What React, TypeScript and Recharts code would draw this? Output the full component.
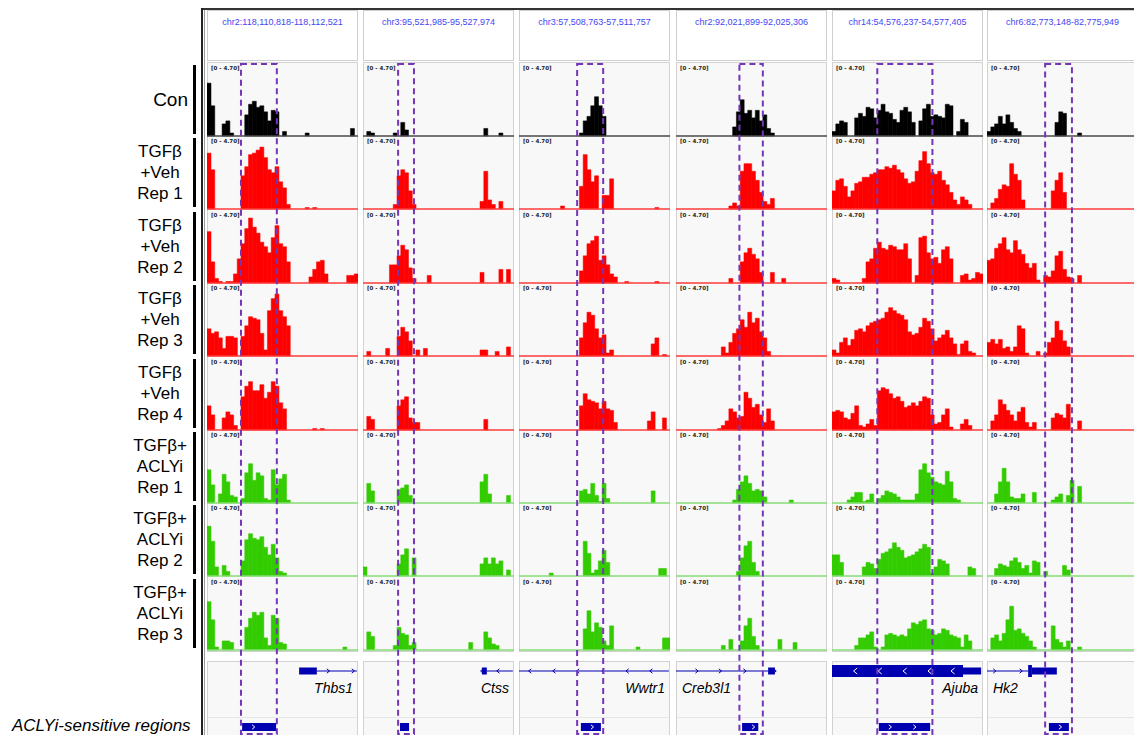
import React from 'react';
import {
  BarChart, Bar, ComposedChart, XAxis, YAxis, ReferenceLine, ReferenceArea, ReferenceDot,
} from 'recharts';

// loci shown in the six panels
const LOCI = [
  'chr2:118,110,818-118,112,521',
  'chr3:95,521,985-95,527,974',
  'chr3:57,508,763-57,511,757',
  'chr2:92,021,899-92,025,306',
  'chr14:54,576,237-54,577,405',
  'chr6:82,773,148-82,775,949',
];
const GENES = ['Thbs1', 'Ctss', 'Wwtr1', 'Creb3l1', 'Ajuba', 'Hk2'];
const TRACK_LABELS = [
  ['Con'],
  ['TGFβ', '+Veh', 'Rep 1'],
  ['TGFβ', '+Veh', 'Rep 2'],
  ['TGFβ', '+Veh', 'Rep 3'],
  ['TGFβ', '+Veh', 'Rep 4'],
  ['TGFβ+', 'ACLYi', 'Rep 1'],
  ['TGFβ+', 'ACLYi', 'Rep 2'],
  ['TGFβ+', 'ACLYi', 'Rep 3'],
];
const TRACK_GROUP = ['con', 'veh', 'veh', 'veh', 'veh', 'acly', 'acly', 'acly'];
const DATA_RANGE = '[0 - 4.70]';
const Y_MAX = 4.7;
const BINS = 40;

// coverage per locus: one row per track (Con, Veh 1-4, ACLYi 1-3), 40 bins each
const thbs1 = [
  [3.5, 2.0, 0, 0, 0.8, 1.0, 0.2, 0, 0, 0, 1.4, 2.1, 2.3, 1.9, 2.0, 1.6, 1.0, 1.7, 1.6, 0, 0.3, 0, 0, 0, 0, 0, 0.2, 0, 0, 0, 0, 0, 0, 0, 0, 0, 0, 0, 0.5, 0],
  [3.7, 2.6, 0, 0, 0, 0, 0, 0, 0, 2.2, 2.8, 3.6, 3.7, 3.9, 4.1, 3.4, 2.6, 2.4, 2.8, 1.8, 1.4, 0.3, 0, 0, 0, 0, 0.1, 0, 0.1, 0, 0, 0, 0, 0, 0, 0, 0, 0, 0, 0],
  [3.4, 1.4, 0.3, 0.1, 0, 0.1, 0.1, 0.6, 1.6, 2.6, 3.6, 4.3, 3.7, 3.3, 2.7, 2.4, 2.0, 3.0, 3.8, 2.6, 2.4, 1.4, 0, 0, 0, 0, 0, 0.4, 0.9, 1.4, 1.5, 0.6, 0, 0, 0, 0, 0, 0.5, 0.5, 0.6],
  [1.8, 1.5, 1.6, 1.2, 0.5, 1.3, 1.3, 1.2, 0, 1.3, 2.0, 2.6, 2.5, 2.4, 1.5, 0.4, 3.0, 3.8, 4.1, 3.0, 2.6, 2.0, 0, 0, 0, 0, 0, 0, 0, 0, 0, 0, 0, 0, 0, 0, 0, 0, 0, 0],
  [1.6, 1.0, 0, 0, 0.8, 1.2, 1.0, 0.3, 0, 2.2, 2.9, 3.2, 2.6, 2.6, 3.0, 2.1, 2.5, 3.2, 2.9, 1.8, 1.4, 0, 0, 0, 0, 0, 0, 0, 0.1, 0, 0.1, 0, 0, 0, 0, 0, 0, 0, 0, 0],
  [2.2, 1.2, 0, 0.6, 1.9, 1.4, 0.5, 0.4, 0, 0.3, 2.0, 2.6, 1.5, 2.0, 1.8, 0.3, 0.2, 2.2, 1.2, 1.6, 1.9, 0.2, 0, 0, 0, 0, 0, 0, 0, 0, 0, 0, 0, 0, 0, 0, 0, 0, 0, 0],
  [3.3, 2.3, 0.6, 0, 0.7, 0.3, 0, 0, 0, 1.0, 2.4, 2.8, 2.5, 2.4, 2.6, 1.9, 1.4, 2.1, 1.2, 0.3, 0.2, 0, 0, 0, 0, 0, 0, 0, 0, 0, 0, 0, 0, 0, 0, 0, 0, 0, 0, 0],
  [3.2, 2.0, 0.2, 0, 0.6, 0.6, 0.5, 0, 0, 0, 1.5, 2.1, 2.5, 2.3, 2.5, 0.8, 0.3, 2.3, 2.1, 0.5, 0.4, 0, 0, 0, 0, 0, 0, 0, 0, 0, 0, 0, 0, 0, 0, 0, 0.2, 0, 0, 0],
];
const ctss = [
  [0, 0.3, 0.2, 0, 0, 0, 0, 0, 0.2, 0, 0.9, 0.4, 0, 0, 0, 0, 0, 0, 0, 0, 0, 0, 0, 0, 0, 0, 0, 0, 0, 0, 0, 0, 0.5, 0, 0, 0, 0.2, 0, 0, 0],
  [0, 0, 0, 0, 0, 0, 0, 0, 0.3, 2.2, 2.6, 2.4, 1.2, 0.3, 0, 0, 0, 0, 0, 0, 0, 0, 0, 0, 0, 0, 0, 0, 0, 0, 0, 0.5, 2.5, 0.6, 0.3, 0, 0.5, 0, 0, 0],
  [0, 0, 0, 0, 0, 0, 0, 1.2, 1.2, 1.8, 2.5, 2.2, 1.0, 0.3, 0, 0, 0, 0.5, 0, 0, 0, 0, 0, 0, 0, 0, 0, 0, 0, 0, 0, 0.7, 0, 0, 0, 0, 0.9, 0, 0.9, 0],
  [0, 0.3, 0, 0, 0, 0, 0.5, 0, 0, 1.3, 1.9, 1.6, 1.0, 0, 0.4, 0, 0.5, 0, 0, 0, 0, 0, 0, 0, 0, 0, 0, 0, 0, 0, 0, 0.4, 0.4, 0, 0, 0.3, 0, 0, 0.6, 0],
  [0, 0.9, 0.7, 0, 0, 0, 0, 0, 0, 1.6, 2.0, 2.2, 0.8, 0.5, 0.5, 0, 0, 0, 0, 0, 0, 0, 0, 0, 0, 0, 0, 0, 0, 0, 0, 0, 0.7, 0, 0, 0, 0, 0, 0, 0],
  [0, 1.3, 0.8, 0, 0, 0, 0, 0, 0, 0.9, 1.0, 1.2, 0.5, 0, 0, 0, 0, 0, 0, 0, 0, 0, 0, 0, 0, 0, 0, 0, 0, 0, 0, 1.4, 1.9, 0.6, 0, 0, 0, 0, 0.5, 0],
  [0.6, 0, 0, 0, 0, 0, 0, 0, 0, 0.8, 1.4, 1.8, 0, 1.2, 0, 0, 0, 0, 0, 0, 0, 0, 0, 0, 0, 0, 0, 0, 0, 0, 0, 0.8, 1.2, 0.8, 1.2, 0.8, 1.0, 0, 0.4, 0],
  [0, 1.2, 0.9, 0, 0, 0, 0, 0, 0.3, 1.5, 1.1, 1.0, 0.3, 0.5, 0, 0, 0, 0, 0, 0, 0, 0, 0, 0, 0, 0, 0, 0, 0.5, 0, 0, 0, 1.2, 0.8, 0.4, 0.3, 0, 0, 0, 0],
];
const wwtr1 = [
  [0, 0, 0, 0, 0, 0, 0, 0, 0, 0, 0, 0, 0, 0, 0, 0, 0.2, 1.0, 1.3, 2.0, 2.6, 2.0, 1.3, 0, 0, 0, 0, 0, 0, 0, 0, 0, 0, 0, 0, 0, 0, 0, 0, 0],
  [0, 0, 0, 0, 0, 0, 0, 0, 0, 0, 0, 0.2, 0, 0, 0, 0, 1.5, 3.6, 2.6, 1.8, 2.2, 0, 0.9, 0.9, 2.0, 0, 0, 0, 0, 0, 0, 0, 0, 0, 0, 0, 0.1, 0, 0, 0],
  [0, 0, 0, 0, 0, 0, 0, 0, 0, 0, 0, 0, 0, 0, 0, 0, 0.8, 1.8, 2.6, 2.8, 3.1, 1.5, 1.8, 1.2, 0.6, 0.4, 0, 0, 0.1, 0, 0, 0, 0, 0, 0, 0, 0.1, 0, 0, 0],
  [0, 0, 0, 0, 0, 0, 0, 0, 0, 0, 0, 0, 0, 0, 0, 0, 1.2, 2.2, 2.9, 2.7, 1.8, 1.2, 1.4, 0.2, 0.4, 0, 0, 0, 0, 0, 0, 0, 0, 0, 0, 0.8, 1.2, 0, 0.1, 0],
  [0, 0, 0, 0, 0, 0, 0, 0, 0, 0, 0, 0, 0, 0, 0, 0, 1.6, 2.4, 2.0, 1.9, 1.8, 1.4, 1.9, 1.4, 1.3, 0.5, 0, 0, 0, 0, 0, 0, 0, 0, 0.6, 1.2, 0, 0, 0.8, 0],
  [0, 0, 0, 0, 0, 0, 0, 0, 0, 0, 0, 0, 0, 0, 0, 0, 0.8, 0.9, 0.6, 1.3, 0.5, 0.1, 1.3, 0.3, 0, 0, 0, 0, 0, 0, 0, 0, 0, 0, 0, 0.8, 0, 0, 0, 0],
  [0, 0, 0, 0, 0, 0, 0, 0, 0.2, 0, 0, 0, 0, 0, 0, 0, 0, 2.3, 1.5, 0.2, 0.4, 1.0, 1.7, 0.9, 0, 0, 0, 0, 0, 0, 0, 0, 0, 0, 0, 0, 0, 0.5, 0.5, 0],
  [0, 0, 0, 0, 0, 0, 0, 0, 0, 0, 0, 0, 0, 0, 0, 0, 0, 1.4, 2.6, 1.2, 1.8, 1.5, 0.6, 0.3, 1.6, 0, 0, 0, 0, 0, 0, 0.2, 0, 0, 0, 0, 0, 0, 0.8, 0.8],
];
const creb3l1 = [
  [0, 0, 0, 0, 0, 0, 0, 0, 0, 0, 0, 0, 0, 0, 0, 0.6, 1.6, 2.4, 1.5, 1.7, 1.2, 1.7, 1.0, 1.4, 0.5, 0.2, 0, 0, 0, 0, 0, 0, 0, 0, 0, 0, 0, 0, 0, 0],
  [0, 0, 0, 0, 0, 0, 0, 0, 0, 0, 0, 0, 0, 0, 0.2, 0.4, 0.2, 2.5, 3.0, 3.0, 2.5, 1.9, 1.1, 0.5, 0.3, 0.7, 0, 0, 0, 0, 0, 0, 0, 0, 0, 0, 0, 0, 0, 0],
  [0, 0, 0, 0, 0, 0, 0, 0, 0, 0, 0, 0, 0, 0, 0.3, 0, 0, 1.4, 2.0, 2.3, 1.9, 1.6, 0.7, 0, 0, 0.7, 0, 0, 0.3, 0, 0, 0, 0, 0, 0, 0, 0, 0, 0, 0],
  [0, 0, 0, 0, 0, 0, 0, 0, 0, 0, 0, 0, 0.6, 0.2, 0.9, 1.5, 1.8, 2.4, 1.9, 2.9, 2.2, 2.5, 1.6, 1.2, 0.3, 0, 0, 0, 0, 0, 0, 0, 0, 0, 0, 0, 0, 0, 0, 0],
  [0, 0, 0, 0, 0, 0, 0, 0, 0, 0, 0, 0.1, 0.3, 0.6, 1.4, 1.2, 0.8, 0.9, 2.5, 2.1, 1.5, 1.7, 1.0, 0.5, 1.4, 0.6, 0, 0, 0, 0, 0, 0, 0, 0, 0, 0, 0, 0, 0, 0],
  [0, 0, 0, 0, 0, 0, 0, 0, 0, 0, 0, 0, 0, 0, 0, 0.2, 0.9, 1.4, 1.8, 1.3, 0.8, 0.9, 0.8, 0.4, 0, 0, 0, 0, 0, 0, 0.2, 0, 0, 0, 0, 0, 0, 0, 0, 0],
  [0, 0, 0, 0, 0, 0, 0, 0, 0, 0, 0, 0, 0, 0, 0, 0, 0.3, 1.2, 2.0, 2.3, 0.9, 0.3, 0, 0, 0, 0, 0, 0, 0, 0, 0, 0, 0, 0, 0, 0, 0, 0, 0, 0],
  [0, 0, 0, 0, 0, 0, 0, 0, 0, 0, 0, 0, 0.3, 0, 0.7, 0, 0, 0.6, 1.6, 2.1, 0.9, 0.3, 0, 0, 0, 0, 0, 0.7, 0, 0, 0, 0.5, 0, 0, 0, 0, 0, 0, 0, 0],
];
const ajuba = [
  [0.3, 0.8, 1.0, 0.9, 0, 0, 1.2, 1.5, 1.3, 1.9, 1.8, 1.2, 1.7, 2.1, 1.6, 1.5, 1.1, 0.9, 1.7, 1.9, 1.6, 0.9, 0, 1.0, 1.8, 2.1, 1.3, 1.4, 1.3, 1.2, 2.1, 2.0, 0, 0.3, 1.1, 0.9, 0, 0, 0, 0],
  [1.2, 1.9, 2.0, 1.5, 0.8, 1.2, 1.7, 1.8, 2.1, 2.1, 2.3, 2.4, 2.6, 2.6, 2.8, 2.7, 2.9, 2.6, 2.4, 2.0, 1.7, 1.8, 2.5, 3.2, 3.8, 3.0, 2.4, 2.3, 2.5, 1.9, 1.6, 1.1, 0.6, 0.3, 0.8, 0.6, 0.3, 0, 0, 0],
  [0.3, 0.2, 0, 0, 0, 0, 0, 0, 0.3, 1.4, 1.6, 2.3, 2.7, 2.3, 2.2, 2.5, 2.4, 2.2, 2.2, 2.6, 1.6, 0, 0.5, 3.0, 3.1, 2.0, 1.6, 1.7, 1.3, 2.2, 2.4, 1.6, 0, 0, 0.5, 0.6, 0.2, 0.3, 0.7, 0.6],
  [0.4, 0.2, 0.9, 1.2, 0.7, 1.1, 1.7, 1.8, 1.6, 2.0, 2.2, 2.3, 2.4, 2.5, 2.9, 3.2, 3.0, 2.8, 2.7, 2.4, 1.6, 1.4, 1.5, 1.9, 2.5, 2.3, 1.8, 1.0, 1.2, 1.4, 1.7, 1.2, 0.8, 0.1, 0.8, 1.0, 0.3, 0.2, 0, 0],
  [1.2, 1.3, 1.2, 0.8, 0.7, 1.1, 1.6, 0.3, 0.2, 0.4, 0.7, 0.3, 2.6, 2.8, 2.7, 2.4, 2.1, 2.2, 1.9, 1.5, 1.6, 1.8, 1.6, 1.9, 2.2, 2.1, 1.0, 0.4, 0.5, 1.0, 1.4, 0.2, 0, 0, 0.4, 0.7, 0.3, 0, 0, 0],
  [0, 0, 0, 0, 0.2, 0.4, 0.7, 0.7, 0.1, 0.2, 0.6, 0, 0.3, 0.5, 0.8, 0.7, 0.6, 0.4, 0.2, 0.2, 0.2, 0.2, 0.6, 2.2, 2.6, 2.0, 1.7, 1.4, 1.3, 1.2, 2.1, 1.4, 0.3, 0.2, 0, 0, 0, 0, 0, 0],
  [1.4, 1.4, 0.9, 0, 0, 0, 0, 0, 0.6, 0.9, 0.8, 0.5, 1.1, 1.5, 1.6, 1.8, 2.2, 1.9, 1.7, 1.2, 1.3, 1.4, 1.6, 1.8, 2.1, 1.9, 0.2, 0.6, 1.1, 1.0, 0.8, 0, 0, 0, 0, 0, 0.6, 0.5, 0, 0],
  [0, 0, 0, 0, 0, 0, 0.3, 0.8, 0.8, 1.0, 1.2, 0.2, 0, 0.2, 1.0, 1.1, 1.0, 0.9, 1.0, 0.9, 1.4, 1.8, 1.7, 1.9, 2.0, 1.4, 1.3, 1.0, 1.1, 1.4, 1.3, 1.0, 0.9, 0.8, 0.2, 1.0, 0.6, 0, 0, 0],
];
const hk2 = [
  [0.3, 0.6, 0.8, 1.3, 0.8, 1.4, 0.9, 0.5, 0.3, 0, 0, 0, 0, 0, 0, 0, 0, 0, 0.9, 1.6, 1.5, 0, 0, 0, 0.2, 0, 0, 0, 0, 0, 0, 0, 0, 0, 0, 0, 0, 0, 0, 0],
  [0, 0.4, 0.7, 1.3, 1.6, 1.5, 3.0, 2.3, 1.9, 0.6, 0, 0, 0, 0, 0, 0, 0, 1.2, 1.9, 2.4, 1.1, 0, 0, 0, 0, 0, 0, 0, 0, 0, 0, 0, 0, 0, 0, 0, 0, 0, 0, 0],
  [1.5, 1.6, 2.3, 2.6, 3.0, 2.2, 2.0, 2.8, 2.2, 1.9, 1.3, 1.0, 1.3, 0.2, 0, 0.5, 0.4, 0.8, 1.8, 2.1, 0.9, 0.4, 0.3, 0, 0.5, 0, 0, 0, 0, 0, 0, 0, 0, 0, 0, 0, 0, 0, 0, 0],
  [0.9, 1.1, 0.8, 1.1, 0.5, 0.6, 0.3, 0.6, 2.0, 1.8, 0.2, 0, 0, 0.3, 0, 0.2, 0.9, 1.2, 2.3, 1.7, 1.0, 0.6, 0, 0, 0, 0, 0, 0, 0, 0, 0, 0, 0, 0, 0, 0, 0, 0, 0, 0],
  [0, 0.6, 1.0, 2.0, 1.7, 1.3, 1.0, 0.6, 1.2, 1.5, 0.5, 0.2, 0.5, 0, 0, 0, 0, 0.8, 1.1, 1.0, 0.8, 1.7, 0, 0, 0.6, 0, 0, 0, 0, 0, 0, 0, 0, 0, 0, 0, 0, 0, 0, 0],
  [0, 0, 0.6, 1.4, 2.3, 1.4, 0.4, 0.3, 0.3, 0.6, 0, 0, 0.7, 0, 0, 0, 0, 0.2, 0.4, 0.6, 0, 0.5, 1.5, 0, 1.1, 0, 0, 0, 0, 0, 0, 0, 0, 0, 0, 0, 0, 0, 0, 0],
  [0, 0, 0.5, 0.8, 0.7, 0.6, 1.0, 1.2, 0.9, 0.5, 0.7, 0.2, 1.0, 0.9, 0, 0.3, 0, 0, 0, 0, 0.7, 0.4, 0, 0, 0, 0, 0, 0, 0, 0, 0, 0, 0, 0, 0, 0, 0, 0, 0, 0],
  [0, 0.8, 1.0, 0.6, 1.1, 2.0, 2.9, 1.3, 1.4, 1.1, 0.9, 0.6, 0.2, 0, 0, 0, 0, 1.6, 0.7, 0.5, 0.2, 0.6, 0, 0, 0.2, 0, 0, 0, 0, 0, 0, 0, 0, 0, 0, 0, 0, 0, 0, 0],
];
const COVERAGE = [thbs1, ctss, wwtr1, creb3l1, ajuba, hk2];

// ACLYi-sensitive windows (bin units) and highlighted boxes
const regionStart = [9.3, 9.8, 16.4, 17.5, 12.4, 16.4];
const regionEnd = [18.3, 12.2, 21.7, 21.8, 26.0, 21.7];
const boxStart = [9.0, 9.3, 15.4, 16.8, 12.0, 15.4];
const boxEnd = [18.5, 13.5, 22.3, 23.0, 26.6, 22.5];

// gene models (bin units)
const geneIntrons = [[29.1, 39.7], [32.8, 39.7], [0, 39.7], [0, 24.4], [], [0, 10.9]];
const geneExons = [
  [{ from: 24.4, to: 29.1, kind: 'utr' }],
  [{ from: 31.5, to: 32.8, kind: 'utr' }],
  [],
  [{ from: 24.4, to: 26.2, kind: 'utr' }],
  [{ from: 0, to: 34.7, kind: 'cds' }, { from: 34.7, to: 39.5, kind: 'utr' }],
  [{ from: 10.9, to: 11.9, kind: 'cds' }, { from: 11.9, to: 18.5, kind: 'utr' }],
];
const geneStrand = [1, -1, -1, 1, -1, 1];
const geneArrows = [
  [32.1, 38.7],
  [31.5, 35.8],
  [2.9, 9.3, 15.6, 22.3, 28.7, 35.0],
  [5.5, 11.7, 18.2, 26.2],
  [6.2, 12.7, 19.3, 25.9, 32.0],
  [2.0, 9.0],
];

const COL_X = [207, 363, 519, 676, 832, 987];
const COL_W = 151;
const FILL: Record<string, string> = { con: '#000000', veh: '#ff0000', acly: '#33cc00' };
const BASE: Record<string, string> = { con: '#4a4a4a', veh: '#ff3b3b', acly: '#86dc76' };
const GENE_BLUE = '#0000b0';
const PURPLE = '#7436b8';
const LEFT_LABELS = ['Creb3l1', 'Hk2'];
const FONT = '"Liberation Sans", Arial, sans-serif';

const trackTop = (r: number) => Math.round(63 + r * 73.4);

const chevron = (dir: number, color: string, size: number) => (p: any) => (
  <polyline
    points={`${p.cx - 0.6 * size * dir},${p.cy - size} ${p.cx + 0.6 * size * dir},${p.cy} ${p.cx - 0.6 * size * dir},${p.cy + size}`}
    fill="none"
    stroke={color}
    strokeWidth={1}
  />
);

function Track({ values, group }: { values: number[]; group: string }) {
  const data = values.map((v, i) => ({ bin: i, v }));
  return (
    <BarChart width={COL_W} height={74} data={data} margin={{ top: 2, right: 0, bottom: 1, left: 0 }} barCategoryGap={0} barGap={0}>
      <XAxis dataKey="bin" hide />
      <YAxis hide domain={[0, Y_MAX]} />
      <Bar dataKey="v" fill={FILL[group]} stroke={FILL[group]} strokeWidth={0.5} isAnimationActive={false} />
      <ReferenceLine y={0} stroke={BASE[group]} strokeWidth={1.5} />
    </BarChart>
  );
}

// shared axes for the annotation strips: x in bins, y in pixels around the centre line
function stripAxes(half: number) {
  return [
    <XAxis key="x" type="number" dataKey="pos" domain={[0, BINS]} allowDataOverflow hide />,
    <YAxis key="y" type="number" dataKey="y" domain={[-half, half]} allowDataOverflow hide />,
  ];
}

function GeneModel({ c }: { c: number }) {
  const intron = geneIntrons[c];
  const exons = geneExons[c];
  const data = exons.map((e) => ({ pos: e.from, y: 0 })).concat(intron.map((p) => ({ pos: p, y: 0 })));
  const inExon = (x: number) => exons.some((e) => x > e.from && x < e.to);
  return (
    <ComposedChart width={COL_W} height={24} data={data} margin={{ top: 0, right: 0, bottom: 0, left: 0 }}>
      {stripAxes(12)}
      {intron.length === 2 && (
        <ReferenceArea x1={intron[0]} x2={intron[1]} y1={-0.5} y2={0.5} fill={GENE_BLUE} fillOpacity={1} stroke="none" ifOverflow="visible" />
      )}
      {exons.map((e, i) => {
        const h = e.kind === 'cds' ? 6 : 3.5;
        return (
          <ReferenceArea key={i} x1={e.from} x2={e.to} y1={-h} y2={h} fill={GENE_BLUE} fillOpacity={1} stroke="none" ifOverflow="visible" />
        );
      })}
      {geneArrows[c].map((x, i) => {
        const inside = inExon(x);
        return (
          <ReferenceDot key={'a' + i} x={x} y={0} r={3} ifOverflow="visible"
            shape={chevron(geneStrand[c], inside ? '#ffffff' : GENE_BLUE, inside ? 3 : 2.2)} />
        );
      })}
    </ComposedChart>
  );
}

function RegionBox({ c }: { c: number }) {
  const s = regionStart[c];
  const e = regionEnd[c];
  const marks: number[] = [];
  for (let x = s + 3; x < e - 1; x += 6.5) marks.push(x);
  return (
    <ComposedChart width={COL_W} height={16} data={[{ pos: s, y: 0 }, { pos: e, y: 0 }]} margin={{ top: 0, right: 0, bottom: 0, left: 0 }}>
      {stripAxes(8)}
      <ReferenceArea x1={s} x2={e} y1={-4} y2={4} fill={GENE_BLUE} fillOpacity={1} stroke="none" ifOverflow="visible" />
      {marks.map((x, i) => (
        <ReferenceDot key={i} x={x} y={0} r={3} ifOverflow="visible" shape={chevron(1, '#ffffff', 2.2)} />
      ))}
    </ComposedChart>
  );
}

function HighlightBox({ c }: { c: number }) {
  return (
    <ComposedChart width={COL_W} height={674} data={[{ pos: boxStart[c], y: 0 }, { pos: boxEnd[c], y: 1 }]} margin={{ top: 2, right: 0, bottom: 2, left: 0 }}>
      <XAxis type="number" dataKey="pos" domain={[0, BINS]} allowDataOverflow hide />
      <YAxis type="number" dataKey="y" domain={[0, 1]} allowDataOverflow hide />
      <ReferenceArea x1={boxStart[c]} x2={boxEnd[c]} y1={0} y2={1} fill="none" stroke={PURPLE}
        strokeWidth={2} strokeDasharray="6 4" ifOverflow="visible" />
    </ComposedChart>
  );
}

export default function App() {
  return (
    <div style={{ position: 'absolute', left: 0, top: 0, width: 1134, height: 735, overflow: 'hidden', background: '#fff', fontFamily: FONT }}>
      {/* frame */}
      <div style={{ position: 'absolute', left: 201, top: 8, width: 933, height: 2, background: '#333' }} />
      <div style={{ position: 'absolute', left: 201, top: 8, width: 2, height: 727, background: '#222' }} />
      <div style={{ position: 'absolute', left: 204, top: 10, width: 1, height: 725, background: '#9a9a9a' }} />

      {/* row labels */}
      {TRACK_LABELS.map((lines, r) => {
        const top = trackTop(r);
        const mid = top + 37;
        return (
          <React.Fragment key={r}>
            <div style={{ position: 'absolute', left: 193, top: top + 2, width: 3, height: 69, background: '#000' }} />
            {lines.length === 1 ? (
              <div style={{ position: 'absolute', left: 100, width: 88, top: mid - 12, fontSize: 19, lineHeight: '24px', textAlign: 'right' }}>
                {lines[0]}
              </div>
            ) : (
              <div style={{ position: 'absolute', left: 120, width: 80, top: mid - 32, fontSize: 17, lineHeight: '21px', textAlign: 'center' }}>
                {lines.map((l) => <div key={l}>{l}</div>)}
              </div>
            )}
          </React.Fragment>
        );
      })}
      <div style={{ position: 'absolute', left: 12, top: 716, fontSize: 17, lineHeight: '20px', fontStyle: 'italic' }}>
        ACLYi-sensitive regions
      </div>

      {COL_X.map((x, c) => (
        <React.Fragment key={c}>
          {/* locus header */}
          <div style={{ position: 'absolute', left: x, top: 10, width: COL_W, height: 51, boxSizing: 'border-box', border: '1px solid #cfcfcf', background: '#fff', textAlign: 'center', fontSize: 9, color: '#4545f5', paddingTop: 6 }}>
            {LOCI[c]}
          </div>
          {/* track panel */}
          <div style={{ position: 'absolute', left: x, top: 62, width: COL_W, height: 590, boxSizing: 'border-box', border: '1px solid #d2d2d2', background: '#f8f8f8' }} />
          {COVERAGE[c].map((values, r) => (
            <div key={r} style={{ position: 'absolute', left: x, top: trackTop(r) }}>
              <Track values={values} group={TRACK_GROUP[r]} />
              <div style={{ position: 'absolute', left: 4, top: 2, fontSize: 5.5, fontWeight: 'bold', color: '#222', fontFamily: '"DejaVu Sans", sans-serif', whiteSpace: 'nowrap' }}>
                {DATA_RANGE}
              </div>
            </div>
          ))}
          {/* gene panel */}
          <div style={{ position: 'absolute', left: x, top: 661, width: COL_W, height: 80, boxSizing: 'border-box', border: '1px solid #d2d2d2', background: '#f8f8f8' }} />
          <div style={{ position: 'absolute', left: x + 1, top: 717, width: COL_W - 2, height: 1, background: '#e6e6e6' }} />
          <div style={{ position: 'absolute', left: x, top: 659 }}>
            <GeneModel c={c} />
          </div>
          <div style={{ position: 'absolute', left: LEFT_LABELS.includes(GENES[c]) ? x + 6 : x, width: LEFT_LABELS.includes(GENES[c]) ? undefined : COL_W - 5, top: 680, fontSize: 14, lineHeight: '16px', fontStyle: 'italic', textAlign: 'right' }}>
            {GENES[c]}
          </div>
          <div style={{ position: 'absolute', left: x, top: 719 }}>
            <RegionBox c={c} />
          </div>
          <div style={{ position: 'absolute', left: x, top: 62 }}>
            <HighlightBox c={c} />
          </div>
        </React.Fragment>
      ))}
    </div>
  );
}
